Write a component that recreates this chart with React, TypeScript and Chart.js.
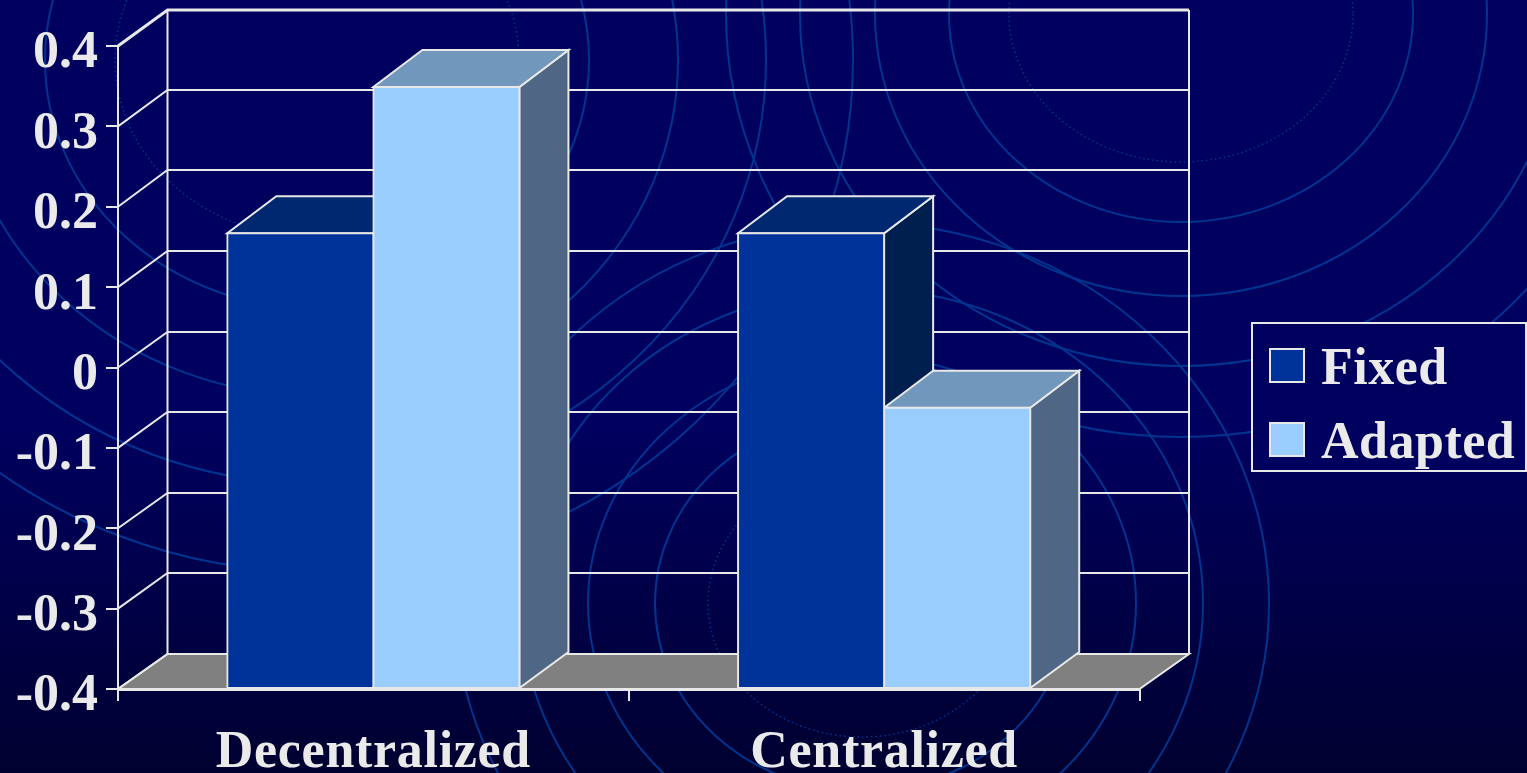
import React, { useEffect, useRef } from "react";
import { Chart, registerables } from "chart.js";

Chart.register(...registerables);

const categories = ["Decentralized", "Centralized"];
const fixedValues = [0.167, 0.167];
const adaptedValues = [0.349, -0.05];
const yTickLabels = ["-0.4", "-0.3", "-0.2", "-0.1", "0", "0.1", "0.2", "0.3", "0.4"];

const TEXT = "#EAEAEA";
const EDGE = "#E8E8E8";
const FONT = '"Liberation Serif", "Times New Roman", serif';
const DEPTH_X = 49.5;
const WALL_RISE_TOP = 36;
const WALL_RISE_BOTTOM = 35;
const BAR_RISE = 37;

// Each dataset's front colour plus its darker top and side shades.
const seriesStyles = [
  { label: "Fixed", front: "#003399", top: "#002870", side: "#001F4F" },
  { label: "Adapted", front: "#99CCFF", top: "#7198BC", side: "#4F6785" },
];

// Elliptical rings of the slide backdrop, each group around one centre; [a, b] semi-axes.
const backdropRings = [
  { cx: 1181, cy: 14, dotted: [172, 148], solid: [[232, 208], [306, 282], [381, 352], [455, 423]] },
  { cx: 317, cy: 60, dotted: [202, 178], solid: [[272, 249], [361, 336], [449, 424], [536, 512]] },
  { cx: 862, cy: 603, dotted: [154, 134], solid: [[207, 188], [274, 247], [341, 314], [407, 380]] },
];

const backdrop = {
  id: "backdrop",
  beforeDraw(chart: any) {
    const { ctx, width, height, scales } = chart;
    ctx.fontKerning = "none";
    ctx.save();
    const g = ctx.createLinearGradient(0, 0, 0, height);
    g.addColorStop(0, "#00005F");
    g.addColorStop(0.55, "#00005F");
    g.addColorStop(1, "#000030");
    ctx.fillStyle = g;
    ctx.fillRect(0, 0, width, height);
    ctx.strokeStyle = "#00348F";
    for (const ring of backdropRings) {
      ctx.lineWidth = 2;
      ctx.setLineDash([]);
      for (const [a, b] of ring.solid) {
        ctx.beginPath();
        ctx.ellipse(ring.cx, ring.cy, a, b, 0, 0, Math.PI * 2);
        ctx.stroke();
      }
      ctx.lineWidth = 1.5;
      ctx.setLineDash([1.5, 3]);
      ctx.beginPath();
      ctx.ellipse(ring.cx, ring.cy, ring.dotted[0], ring.dotted[1], 0, 0, Math.PI * 2);
      ctx.stroke();
    }
    ctx.restore();

    // The category labels are set a little wider than the value labels.
    const xScale = scales.x;
    if (!xScale.spacedLabels) {
      const drawLabels = xScale.drawLabels.bind(xScale);
      xScale.drawLabels = (area: any) => {
        ctx.letterSpacing = "0.7px";
        drawLabels(area);
        ctx.letterSpacing = "0px";
      };
      xScale.spacedLabels = true;
    }
  },
};

const poly = (ctx: any, pts: number[][], fill: string | null) => {
  ctx.beginPath();
  pts.forEach(([x, y], i) => (i ? ctx.lineTo(x, y) : ctx.moveTo(x, y)));
  ctx.closePath();
  if (fill) {
    ctx.fillStyle = fill;
    ctx.fill();
  }
  ctx.stroke();
};

// Back wall, left wall and floor of the box, then the top and side faces of each bar.
const box3d = {
  id: "box3d",
  beforeDatasetsDraw(chart: any) {
    const { ctx, scales, chartArea } = chart;
    const { left, right, bottom, top } = chartArea;
    const backY = (y: number) => {
      const t = (y - top) / (bottom - top);
      return Math.floor(y - WALL_RISE_TOP + t * (WALL_RISE_TOP - WALL_RISE_BOTTOM));
    };
    ctx.save();
    ctx.strokeStyle = EDGE;
    ctx.lineWidth = 2;
    ctx.lineJoin = "miter";

    poly(
      ctx,
      [
        [left, bottom],
        [right, bottom],
        [right + DEPTH_X, backY(bottom)],
        [left + DEPTH_X, backY(bottom)],
      ],
      "#808080"
    );
    for (const t of scales.y.ticks) {
      const y = scales.y.getPixelForValue(t.value);
      ctx.lineWidth = y === top ? 3 : 2;
      ctx.beginPath();
      ctx.moveTo(left, y);
      ctx.lineTo(left + DEPTH_X, backY(y));
      ctx.lineTo(right + DEPTH_X, backY(y));
      ctx.stroke();
    }
    ctx.lineWidth = 2;
    ctx.beginPath();
    ctx.moveTo(left + DEPTH_X, backY(top));
    ctx.lineTo(left + DEPTH_X, backY(bottom));
    ctx.moveTo(right + DEPTH_X, backY(top));
    ctx.lineTo(right + DEPTH_X, backY(bottom));
    ctx.stroke();

    chart.data.datasets.forEach((_: any, di: number) => {
      const style = seriesStyles[di];
      chart.getDatasetMeta(di).data.forEach((bar: any) => {
        const l = bar.x - bar.width / 2;
        const r = bar.x + bar.width / 2;
        const t = bar.y;
        const b = bar.base;
        poly(
          ctx,
          [
            [r, t],
            [r + DEPTH_X - 0.5, t - BAR_RISE],
            [r + DEPTH_X - 0.5, backY(b)],
            [r, b],
          ],
          style.side
        );
        poly(
          ctx,
          [
            [l, t],
            [r, t],
            [r + DEPTH_X - 0.5, t - BAR_RISE],
            [l + DEPTH_X - 0.5, t - BAR_RISE],
          ],
          style.top
        );
      });
    });
    ctx.restore();
  },
};

// Framed key to the right of the plot.
const keyBox = {
  id: "keyBox",
  afterDraw(chart: any) {
    const { ctx } = chart;
    ctx.save();
    ctx.strokeStyle = EDGE;
    ctx.lineWidth = 2;
    ctx.fillStyle = "#00005F";
    ctx.fillRect(1252, 323, 274, 148);
    ctx.strokeRect(1252, 323, 274, 148);
    ctx.font = `bold 52px ${FONT}`;
    ctx.textBaseline = "alphabetic";
    ctx.letterSpacing = "0.5px";
    seriesStyles.forEach((s, i) => {
      const y = 349 + i * 74;
      ctx.fillStyle = s.front;
      ctx.fillRect(1270, y, 34, 33);
      ctx.strokeRect(1270, y, 34, 33);
      ctx.fillStyle = TEXT;
      ctx.fillText(chart.data.datasets[i].label, 1321, y + 35);
    });
    ctx.letterSpacing = "0px";
    ctx.restore();
  },
};

export default function App() {
  const ref = useRef<HTMLCanvasElement>(null);

  useEffect(() => {
    const chart = new Chart(ref.current!, {
      type: "bar",
      data: {
        labels: categories,
        datasets: [fixedValues, adaptedValues].map((values, i) => ({
          label: seriesStyles[i].label,
          data: values,
          base: -0.4,
          backgroundColor: seriesStyles[i].front,
          borderColor: EDGE,
          borderWidth: 2,
          borderSkipped: false,
          inflateAmount: 1,
          barPercentage: 1,
          categoryPercentage: 0.572,
        })),
      },
      options: {
        animation: false,
        responsive: false,
        layout: { padding: { top: 46, right: 387.5, left: 0, bottom: 0 } },
        plugins: { legend: { display: false }, tooltip: { enabled: false } },
        scales: {
          x: {
            afterFit(scale: any) {
              scale.height = 84;
            },
            grid: { drawOnChartArea: false, color: EDGE, lineWidth: 2, tickLength: 12, tickColor: EDGE },
            border: { display: true, color: EDGE, width: 3 },
            ticks: { color: TEXT, font: { family: FONT, size: 52, weight: "bold" }, padding: 21, maxRotation: 0, autoSkip: false },
          },
          y: {
            min: -0.4,
            max: 0.4,
            afterFit(scale: any) {
              scale.width = 118;
            },
            grid: { drawOnChartArea: false, color: EDGE, lineWidth: 2, tickLength: 12, tickColor: EDGE },
            border: { display: true, color: EDGE, width: 2 },
            ticks: {
              stepSize: 0.1,
              color: TEXT,
              font: { family: FONT, size: 52, weight: "bold" },
              padding: 8,
              labelOffset: 8,
              callback: (_v: any, i: number) => yTickLabels[i],
            },
          },
        },
      } as any,
      plugins: [backdrop, box3d, keyBox],
    });
    return () => chart.destroy();
  }, []);

  return (
    <canvas
      ref={ref}
      width={1527}
      height={773}
      style={{ position: "absolute", left: 0, top: 0, display: "block" }}
    />
  );
}
